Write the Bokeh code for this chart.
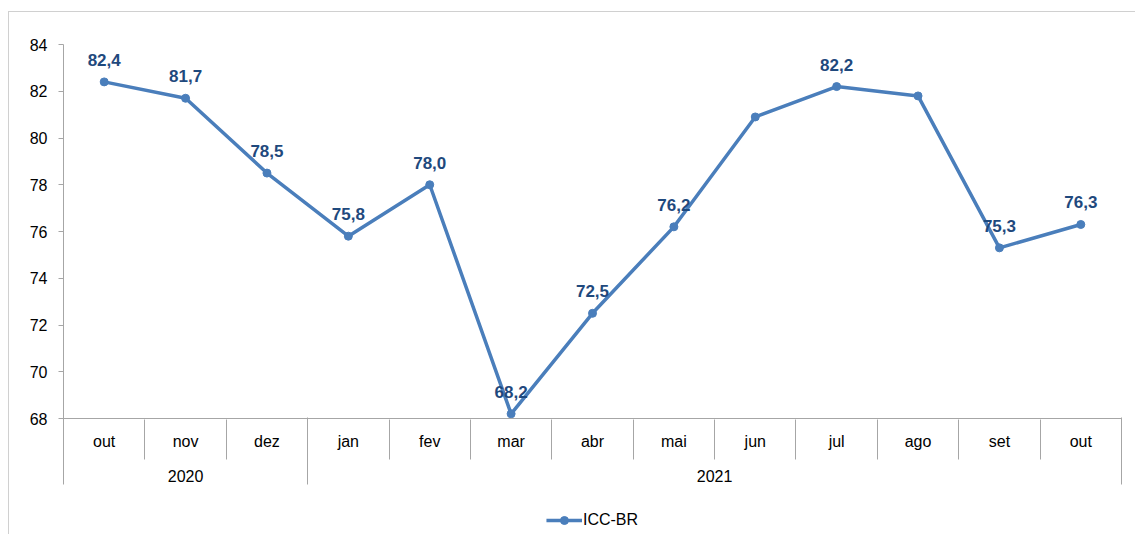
from bokeh.plotting import figure
from bokeh.models import (Range1d, FixedTicker, LinearAxis, Legend, LegendItem,
                          ColumnDataSource)
from bokeh.layouts import column
from bokeh.core.properties import value
from bokeh.embed import file_html
from bokeh.resources import INLINE

months = ["out", "nov", "dez", "jan", "fev", "mar", "abr", "mai", "jun", "jul", "ago", "set", "out"]
years = ["2020", "2021"]
year_spans = [3, 10]  # number of months per year group
icc = [82.4, 81.7, 78.5, 75.8, 78.0, 68.2, 72.5, 76.2, 80.9, 82.2, 81.8, 75.3, 76.3]
show_label = [True, True, True, True, True, True, True, True, False, True, False, True, True]
y_ticks = [68, 70, 72, 74, 76, 78, 80, 82, 84]
series_name = "ICC-BR"

FONT = "Liberation Sans"
LINE = "#4A7EBB"
LABEL = "#1F497D"
GRAY = "#A6A6A6"

n = len(months)
xs = [i + 0.5 for i in range(n)]
labels = [(f"{v:.1f}".replace(".", ",") if s else "") for v, s in zip(icc, show_label)]
src = ColumnDataSource(dict(x=xs, y=icc, lab=labels))

ybounds = [0]
centers = []
for s in year_spans:
    centers.append(ybounds[-1] + s / 2)
    ybounds.append(ybounds[-1] + s)
month_bounds = [b for b in range(n + 1) if b not in ybounds]

p = figure(width=1126, height=478, output_backend="svg", toolbar_location=None,
           x_range=Range1d(0, n), y_range=Range1d(68, 84),
           x_axis_type=None, y_axis_type=None,
           min_border_left=54, min_border_right=14, min_border_top=32, min_border_bottom=72)
p.outline_line_color = None
p.xgrid.visible = False
p.ygrid.visible = False
p.background_fill_color = "white"


def style_axis(ax):
    ax.major_label_text_font = FONT
    ax.major_label_text_font_size = "16px"
    ax.major_label_text_color = "#000000"


# y axis
ya = LinearAxis(ticker=FixedTicker(ticks=y_ticks))
ya.axis_line_color = GRAY
ya.major_tick_line_color = GRAY
ya.major_tick_out = 5
ya.major_tick_in = 0
ya.minor_tick_line_color = None
ya.major_label_standoff = 11
style_axis(ya)
p.add_layout(ya, "left")

E1 = 33  # height of month axis
E12 = 67  # month axis + year axis height

# month axis (labels only)
xa = LinearAxis(ticker=FixedTicker(ticks=xs))
xa.major_label_overrides = {x: m for x, m in zip(xs, months)}
xa.axis_line_color = GRAY
xa.major_tick_line_color = None
xa.major_tick_out = 0
xa.major_tick_in = 0
xa.minor_tick_line_color = None
xa.major_label_standoff = 14
style_axis(xa)
p.add_layout(xa, "below")

# year axis (labels + month dividers reaching up)
ya2 = LinearAxis(ticker=FixedTicker(ticks=centers, minor_ticks=month_bounds))
ya2.major_label_overrides = {c: y for c, y in zip(centers, years)}
ya2.axis_line_color = None
ya2.major_tick_line_color = None
ya2.major_tick_out = 0
ya2.major_tick_in = 0
ya2.minor_tick_line_color = GRAY
ya2.minor_tick_out = 7
ya2.minor_tick_in = E1
ya2.major_label_standoff = 10
style_axis(ya2)
p.add_layout(ya2, "below")

# year dividers
ya3 = LinearAxis(ticker=FixedTicker(ticks=ybounds))
ya3.major_label_overrides = {b: " " for b in ybounds}
ya3.axis_line_color = None
ya3.major_tick_line_color = GRAY
ya3.major_tick_out = 0
ya3.major_tick_in = E12
ya3.minor_tick_line_color = None
ya3.major_label_standoff = 0
ya3.major_label_text_font_size = "1px"
p.add_layout(ya3, "below")

p.line("x", "y", source=src, line_color=LINE, line_width=3.5)
p.scatter("x", "y", source=src, size=8, fill_color=LINE, line_color=LINE)
p.text("x", "y", text="lab", source=src, text_font=value(FONT), text_font_style="bold",
       text_font_size="17px", text_color=LABEL, text_align="center",
       text_baseline="alphabetic", y_offset=-22)

# legend figure (series drawn out of its visible range; only the legend shows)
p2 = figure(width=1126, height=44, output_backend="svg", toolbar_location=None,
            x_range=Range1d(0, n), y_range=Range1d(0, 1),
            x_axis_type=None, y_axis_type=None, min_border=0)
p2.outline_line_color = None
p2.xgrid.visible = False
p2.ygrid.visible = False
l2 = p2.line("x", "y", source=src, line_color=LINE, line_width=3.5)
m2 = p2.scatter("x", "y", source=src, size=8, fill_color=LINE, line_color=LINE)
leg = Legend(items=[LegendItem(label=series_name, renderers=[l2, m2])],
             location="bottom_center", orientation="horizontal")
leg.border_line_color = None
leg.background_fill_alpha = 0
leg.padding = 0
leg.margin = 4
leg.glyph_width = 36
leg.label_standoff = 1
leg.label_text_font = FONT
leg.label_text_font_size = "16px"
leg.label_text_color = "#000000"
p2.add_layout(leg, "center")

layout = column(p, p2, spacing=0)
layout.styles = {"margin-left": "8px", "margin-top": "11px",
                 "border-left": "1px solid #D0D0D0", "border-top": "1px solid #D0D0D0"}

open("out.html", "w").write(file_html(layout, INLINE))
